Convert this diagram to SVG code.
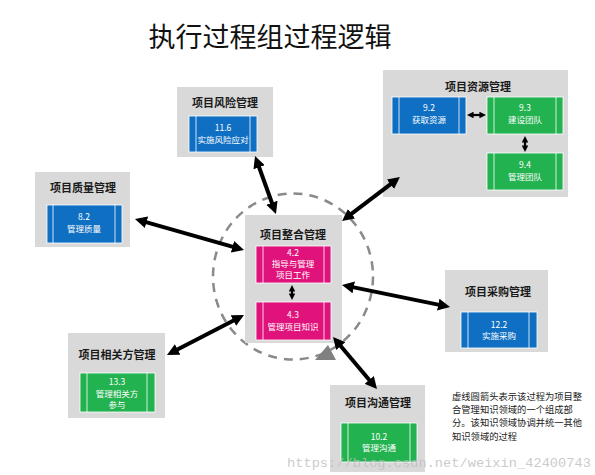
<svg xmlns="http://www.w3.org/2000/svg" width="595" height="475" viewBox="0 0 595 475">
<defs>
<style>
.ka{fill:#d9d9d9}
.blue{fill:#0f6fc2;stroke:#ffffff;stroke-width:0.8}
.green{fill:#22b24f;stroke:#ffffff;stroke-width:0.8}
.mag{fill:#e0137c;stroke:#ffffff;stroke-width:0.8}
.vl{stroke:#ffffff;stroke-width:0.8}
.ttl{font-family:"Noto Sans CJK SC","Noto Sans",sans-serif;font-size:11px;font-weight:bold;fill:#1a1a1a;text-anchor:middle}
.bt{font-family:"Noto Sans CJK SC","Noto Sans",sans-serif;font-size:8.5px;fill:#ffffff;text-anchor:middle}
.ar{stroke:#000000;stroke-width:4;fill:none;marker-start:url(#ah);marker-end:url(#ah)}
.sar{stroke:#000000;stroke-width:2.2;fill:none;marker-start:url(#ah);marker-end:url(#ah)}
.note{font-family:"Noto Sans CJK SC","Noto Sans",sans-serif;font-size:9.3px;fill:#222222}
</style>
<marker id="ah" viewBox="0 0 10 10" refX="2" refY="5" markerWidth="3" markerHeight="3" orient="auto-start-reverse">
<path d="M0,0 L10,5 L0,10 z" fill="#000000"/>
</marker>
</defs>
<rect width="595" height="475" fill="#ffffff"/>
<text x="270" y="47" font-family="'Noto Sans CJK SC','Microsoft YaHei',sans-serif" font-size="27" fill="#111111" text-anchor="middle">执行过程组过程逻辑</text>

<ellipse cx="293" cy="276.5" rx="80" ry="83" fill="none" stroke="#8a8a8a" stroke-width="2.5" stroke-dasharray="9 7"/>

<g id="risk">
<rect class="ka" x="177" y="87" width="96" height="70"/>
<text class="ttl" x="225" y="107">项目风险管理</text>
<rect class="blue" x="189" y="116" width="68" height="36"/>
<line class="vl" x1="196" y1="116" x2="196" y2="152"/><line class="vl" x1="250" y1="116" x2="250" y2="152"/>
<text class="bt" x="223" y="131">11.6</text>
<text class="bt" x="223" y="143">实施风险应对</text>
</g>

<g id="resource">
<rect class="ka" x="383" y="70" width="185" height="127"/>
<text class="ttl" x="478" y="91">项目资源管理</text>
<rect class="blue" x="392" y="97" width="74" height="37"/>
<line class="vl" x1="399" y1="97" x2="399" y2="134"/><line class="vl" x1="459" y1="97" x2="459" y2="134"/>
<text class="bt" x="429" y="111">9.2</text>
<text class="bt" x="429" y="123">获取资源</text>
<rect class="green" x="487" y="97" width="76" height="37"/>
<line class="vl" x1="494" y1="97" x2="494" y2="134"/><line class="vl" x1="556" y1="97" x2="556" y2="134"/>
<text class="bt" x="525" y="111">9.3</text>
<text class="bt" x="525" y="123">建设团队</text>
<rect class="green" x="487" y="153" width="76" height="37"/>
<line class="vl" x1="494" y1="153" x2="494" y2="190"/><line class="vl" x1="556" y1="153" x2="556" y2="190"/>
<text class="bt" x="525" y="168">9.4</text>
<text class="bt" x="525" y="180">管理团队</text>
</g>

<g id="quality">
<rect class="ka" x="35" y="172" width="95" height="75"/>
<text class="ttl" x="83" y="192">项目质量管理</text>
<rect class="blue" x="47" y="205" width="75" height="38"/>
<line class="vl" x1="53" y1="205" x2="53" y2="243"/><line class="vl" x1="115" y1="205" x2="115" y2="243"/>
<text class="bt" x="84" y="220">8.2</text>
<text class="bt" x="84" y="232">管理质量</text>
</g>

<g id="integration">
<rect class="ka" x="245" y="215" width="97" height="128"/>
<text class="ttl" x="293" y="239">项目整合管理</text>
<rect class="mag" x="256" y="246" width="75" height="37"/>
<line class="vl" x1="263" y1="246" x2="263" y2="283"/><line class="vl" x1="324" y1="246" x2="324" y2="283"/>
<text class="bt" x="293" y="256">4.2</text>
<text class="bt" x="293" y="267">指导与管理</text>
<text class="bt" x="293" y="278">项目工作</text>
<rect class="mag" x="256" y="302" width="75" height="38"/>
<line class="vl" x1="263" y1="302" x2="263" y2="340"/><line class="vl" x1="324" y1="302" x2="324" y2="340"/>
<text class="bt" x="293" y="318">4.3</text>
<text class="bt" x="293" y="330">管理项目知识</text>
</g>

<polygon points="315,360 328,345 336,360" fill="#808080"/>

<g id="procurement">
<rect class="ka" x="445" y="270" width="103" height="82"/>
<text class="ttl" x="498" y="296">项目采购管理</text>
<rect class="blue" x="461" y="312" width="76" height="36"/>
<line class="vl" x1="468" y1="312" x2="468" y2="348"/><line class="vl" x1="529" y1="312" x2="529" y2="348"/>
<text class="bt" x="499" y="328">12.2</text>
<text class="bt" x="499" y="339">实施采购</text>
</g>

<g id="stakeholder">
<rect class="ka" x="68" y="333" width="97" height="85"/>
<text class="ttl" x="117" y="359">项目相关方管理</text>
<rect class="green" x="80" y="373" width="75" height="39"/>
<line class="vl" x1="87" y1="373" x2="87" y2="412"/><line class="vl" x1="147" y1="373" x2="147" y2="412"/>
<text class="bt" x="117" y="385">13.3</text>
<text class="bt" x="117" y="397">管理相关方</text>
<text class="bt" x="117" y="408">参与</text>
</g>

<g id="communications">
<rect class="ka" x="330" y="385" width="95" height="87"/>
<text class="ttl" x="378" y="407">项目沟通管理</text>
<rect class="green" x="341" y="423" width="76" height="39"/>
<line class="vl" x1="348" y1="423" x2="348" y2="462"/><line class="vl" x1="410" y1="423" x2="410" y2="462"/>
<text class="bt" x="379" y="440">10.2</text>
<text class="bt" x="379" y="451">管理沟通</text>
</g>

<g id="connectors">
<line class="ar" x1="258.3" y1="165" x2="272.7" y2="205"/>
<line class="ar" x1="392.3" y1="182.8" x2="349.7" y2="215.2"/>
<line class="ar" x1="144.2" y1="221.6" x2="234.8" y2="247.4"/>
<line class="ar" x1="175.5" y1="350.6" x2="235.5" y2="319.4"/>
<line class="ar" x1="351.4" y1="286.9" x2="440.6" y2="305.1"/>
<line class="ar" x1="339.2" y1="344.3" x2="370.8" y2="381.7"/>
<line class="sar" x1="472.3" y1="115" x2="480.7" y2="115"/>
<line class="sar" x1="525" y1="141.3" x2="525" y2="146.7"/>
<line class="sar" x1="292" y1="290.3" x2="292" y2="294.7"/>
</g>

<g id="note">
<text class="note" x="452" y="400">虚线圆箭头表示该过程为项目整</text>
<text class="note" x="452" y="413">合管理知识领域的一个组成部</text>
<text class="note" x="452" y="426">分。该知识领域协调并统一其他</text>
<text class="note" x="452" y="440">知识领域的过程</text>
</g>

<text x="287" y="467" font-family="'Liberation Mono',monospace" font-size="13.7" fill="#bdbdbd" fill-opacity="0.8">https://blog.csdn.net/weixin_42400743</text>
</svg>
